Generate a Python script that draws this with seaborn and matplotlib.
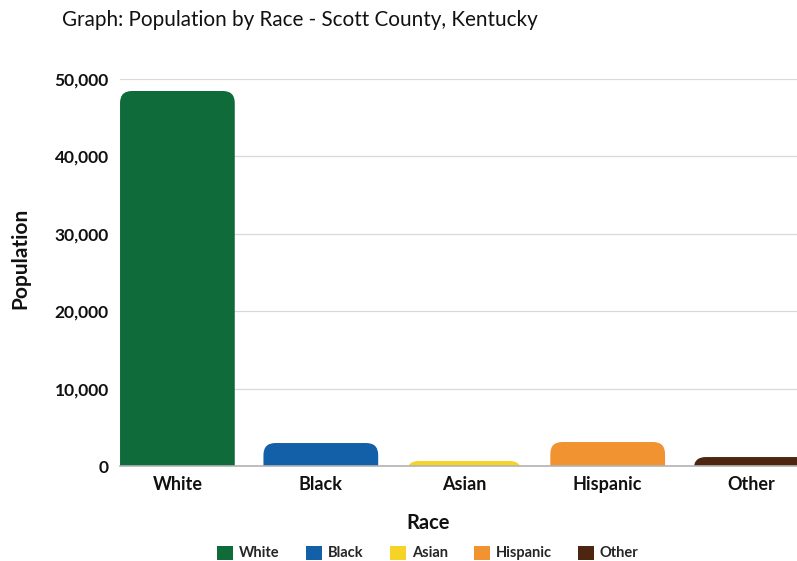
import matplotlib
matplotlib.use("Agg")
import matplotlib.pyplot as plt
from matplotlib.patches import FancyBboxPatch, Patch
from matplotlib.ticker import FuncFormatter
import seaborn as sns
import pandas as pd

races = ["White", "Black", "Asian", "Hispanic", "Other"]
population = [48450, 2970, 650, 3100, 1160]
colors = ["#0f6b3a", "#135fa8", "#f5d327", "#f09330", "#4e2610"]
y_ticks = [0, 10000, 20000, 30000, 40000, 50000]

sns.set_theme(style="white")
plt.rcParams["font.family"] = ["Lato", "DejaVu Sans"]

df = pd.DataFrame({"Race": races, "Population": population})

fig = plt.figure(figsize=(7.97, 5.61), dpi=100)
ax = fig.add_axes([0.1506, 0.1693, 0.8494, 0.6899])

sns.barplot(data=df, x="Race", y="Population", hue="Race",
            palette=colors, order=races, width=0.8, legend=False,
            saturation=1, ax=ax)

ax.set_xlim(-0.4, 4.32)
ax.set_ylim(0, 50000)

# swap the plain rectangles for bars with rounded top corners
fig.canvas.draw()
bbox = ax.get_window_extent()
x_per_px = (4.32 + 0.4) / bbox.width
y_per_px = 50000 / bbox.height
radius_px = 12
aspect = y_per_px / x_per_px
for p in list(ax.patches):
    x, w, h = p.get_x(), p.get_width(), p.get_height()
    fc = p.get_facecolor()
    p.remove()
    r = radius_px * x_per_px
    ext = radius_px * y_per_px
    box = FancyBboxPatch((x, -ext), w, h + ext,
                         boxstyle=f"round,pad=0,rounding_size={r}",
                         mutation_aspect=aspect, facecolor=fc,
                         edgecolor="none", zorder=2, clip_on=True)
    ax.add_patch(box)

ax.set_yticks(y_ticks)
ax.yaxis.set_major_formatter(FuncFormatter(lambda v, _: f"{int(v):,}"))
ax.grid(axis="y", color="#d9d9d9", linewidth=0.9, zorder=0)
ax.set_axisbelow(True)
for s in ["top", "right", "left"]:
    ax.spines[s].set_visible(False)
ax.spines["bottom"].set_color("#b3b3b3")
ax.spines["bottom"].set_linewidth(1.2)
ax.spines["bottom"].set_zorder(3)

ax.tick_params(axis="y", length=0, pad=8, labelsize=12.5)
ax.tick_params(axis="x", length=0, pad=7, labelsize=13)
for lab in ax.get_yticklabels() + ax.get_xticklabels():
    lab.set_fontweight("bold")
    lab.set_color("#111111")

ax.set_xlabel("Race", fontsize=14.5, fontweight="bold", color="#111111")
ax.xaxis.set_label_coords(0.455, -0.122)
ax.set_ylabel("Population", fontsize=15, fontweight="bold", color="#111111")
ax.yaxis.set_label_coords(-0.132, 0.537)

fig.text(62 / 797, 1 - 20 / 561, "Graph: Population by Race - Scott County, Kentucky",
         fontsize=14.9, color="#111111", va="center", ha="left")

handles = [Patch(facecolor=c, edgecolor="none", label=r) for r, c in zip(races, colors)]
fig.legend(handles=handles, loc="center", bbox_to_anchor=(428 / 797, 1 - 553 / 561),
           ncol=5, frameon=False, handlelength=1.1, handleheight=1.1,
           handletextpad=0.4, columnspacing=1.8,
           prop={"weight": "bold", "size": 10.5})

fig.savefig("out.png", dpi=100)
